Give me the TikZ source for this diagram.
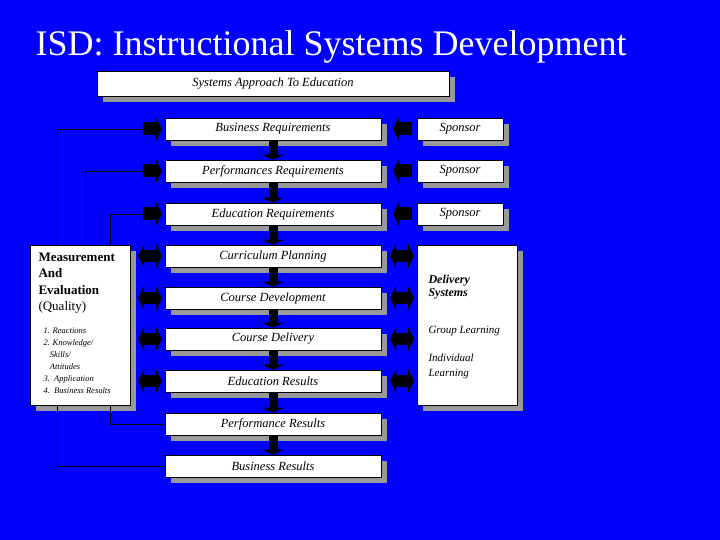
\documentclass[tikz,border=0pt]{standalone}
\usepackage{fontspec}
\setmainfont{Liberation Serif}
\usetikzlibrary{arrows.meta,shadows}
\begin{document}
\begin{tikzpicture}[x=1pt,y=-1pt,
 box/.style={draw=black,fill=white,line width=0.6pt,font=\itshape\fontsize{12.5}{12}\selectfont,drop shadow={shadow xshift=6pt,shadow yshift=-6pt,fill=gray!80,opacity=1},inner sep=0pt},
 dn/.style={line width=9pt,-{Triangle[length=5pt,width=22pt]},black},
 rt/.style={line width=13pt,-{Triangle[length=6pt,width=24pt]},black},
 bi/.style={line width=12pt,{Triangle[length=6pt,width=24pt]}-{Triangle[length=6pt,width=24pt]},black},
 ln/.style={black,line width=0.6pt}]
\fill[blue] (0,0) rectangle (720,540);
\useasboundingbox (0,0) rectangle (720,540);
\node[white,anchor=west,font=\fontsize{36}{36}\selectfont] (title) at (32,47) {ISD: Instructional Systems Development};
\node[box,minimum width=352pt,minimum height=25pt] (top) at (273,83.5) {Systems Approach To Education};
\foreach \n/\y/\t in {b1/129/Business Requirements,b2/171/Performances Requirements,b3/214/Education Requirements,b4/256/Curriculum Planning,b5/298/Course Development,b6/339/Course Delivery,b7/381/Education Results,b8/424/Performance Results,b9/466/Business Results}
 \node[box,minimum width=216pt,minimum height=22pt] (\n) at (273,\y) {\t};
\foreach \n/\y in {s1/129,s2/171,s3/214}
 \node[box,minimum width=86pt,minimum height=22pt] (\n) at (460,\y) {Sponsor};
\node[box,minimum width=100pt,minimum height=160pt] (ds) at (467,325) {};
\node[anchor=north west,align=left,font=\itshape\fontsize{12}{13}\selectfont\bfseries] (dst) at (425,272) {Delivery\\Systems};
\node[anchor=north west,align=left,font=\itshape\fontsize{11}{13}\selectfont] (gl) at (425,323) {Group Learning};
\node[anchor=north west,align=left,font=\itshape\fontsize{11}{15}\selectfont] (il) at (425,350) {Individual\\Learning};
\node[box,minimum width=100pt,minimum height=160pt] (me) at (80,325) {};
\node[anchor=north west,align=left,font=\bfseries\fontsize{13}{16.5}\selectfont] (met) at (35,249) {Measurement\\And\\Evaluation\\\mdseries(Quality)};
\node[anchor=north west,align=left,font=\itshape\fontsize{8.5}{12}\selectfont] (mel) at (40,324) {1. Reactions\\2. Knowledge/\\\ \ \ Skills/\\\ \ \ Attitudes\\3.\ \ Application\\4.\ \ Business Results};
\foreach \a/\b in {b1/b2,b2/b3,b3/b4,b4/b5,b5/b6,b6/b7,b7/b8,b8/b9}
 \draw[dn] (\a.south) -- (\b.north);
\foreach \y/\n in {129/1,171/2,214/3}{
 \coordinate (la\n) at (143,\y); \coordinate (lb\n) at (162,\y);
 \draw[rt] (la\n) -- (lb\n);
 \coordinate (ra\n) at (412,\y); \coordinate (rb\n) at (393,\y);
 \draw[rt] (ra\n) -- (rb\n);}
\foreach \y/\n in {256/4,298/5,339/6,381/7}{
 \coordinate (lc\n) at (138,\y); \coordinate (ld\n) at (162,\y);
 \draw[bi] (lc\n) -- (ld\n);
 \coordinate (rc\n) at (390,\y); \coordinate (rd\n) at (414,\y);
 \draw[bi] (rc\n) -- (rd\n);}
\draw[ln] (me.north -| 57,0) |- (la1);
\draw[ln] (me.north -| 85,0) |- (la2);
\draw[ln] (me.north -| 110,0) |- (la3);
\draw[ln] (me.south -| 110,0) |- (b8.west);
\draw[ln] (me.south -| 57,0) |- (b9.west);
\end{tikzpicture}
\end{document}
